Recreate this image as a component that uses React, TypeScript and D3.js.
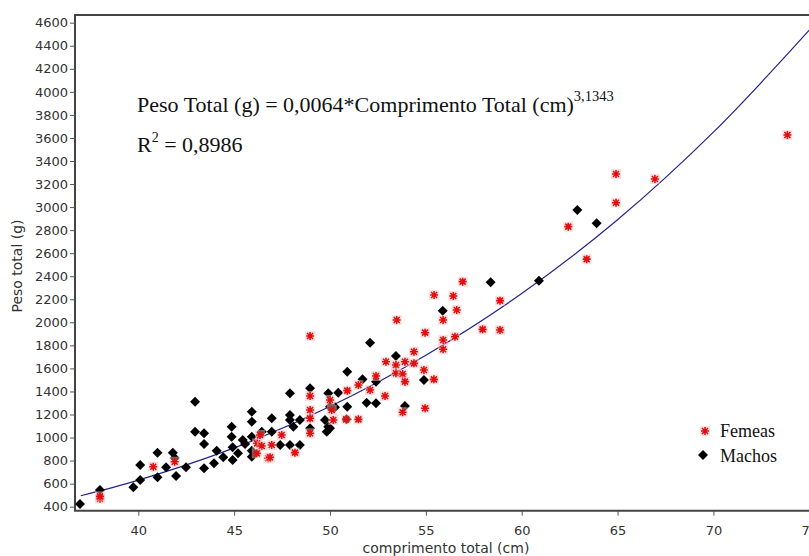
import { useRef, useEffect } from 'react';
import * as d3 from 'd3';

// comprimento total (cm) / peso total (g)
const machosCm = [36.96, 38.0, 39.74, 40.1, 40.1, 41.0, 41.0, 41.45, 41.8, 41.9, 41.97, 42.49, 42.96, 42.96, 43.43, 43.43, 43.43, 43.95, 44.09, 44.43, 44.87, 44.87, 44.92, 44.92, 45.2, 45.45, 45.57, 45.92, 45.92, 45.92, 45.92, 45.92, 46.44, 46.96, 46.96, 47.4, 47.91, 47.91, 47.91, 48.09, 48.43, 47.91, 48.43, 48.96, 48.96, 49.91, 50.43, 50.0, 50.26, 50.9, 50.9, 50.87, 49.74, 49.91, 49.83, 50.0, 51.7, 52.09, 51.91, 52.4, 52.4, 53.44, 53.91, 54.9, 55.88, 58.38, 60.9, 62.9, 63.91];
const machosG = [423, 545, 568, 632, 762, 655, 869, 742, 869, 822, 666, 742, 1311, 1051, 1037, 944, 733, 777, 886, 829, 1094, 1007, 915, 805, 863, 979, 944, 1224, 1138, 1007, 886, 834, 1051, 1167, 1051, 935, 1384, 1196, 1152, 1094, 1152, 935, 935, 1427, 1080, 1384, 1389, 1268, 1263, 1572, 1268, 1158, 1152, 1094, 1051, 1080, 1507, 1823, 1302, 1297, 1485, 1708, 1274, 1500, 2101, 2347, 2361, 2975, 2859];

const femeasCm = [38.0, 38.0, 40.78, 41.9, 46.2, 46.44, 46.78, 46.96, 46.35, 46.18, 46.87, 47.48, 48.17, 48.96, 48.96, 48.96, 48.96, 48.96, 50.0, 50.09, 50.17, 50.9, 50.84, 51.48, 51.48, 52.09, 52.4, 52.87, 52.92, 53.44, 53.44, 53.79, 53.91, 53.91, 54.38, 54.38, 54.9, 55.42, 54.96, 53.79, 54.96, 53.48, 55.9, 55.9, 55.9, 56.52, 57.96, 58.87, 58.87, 56.92, 55.43, 56.43, 56.61, 62.43, 64.92, 64.92, 63.39, 66.95, 73.86];
const femeasG = [470, 490, 747, 790, 950, 927, 820, 935, 1022, 863, 829, 1022, 869, 1881, 1361, 1239, 1167, 1037, 1326, 1239, 1152, 1407, 1158, 1158, 1456, 1413, 1534, 1361, 1658, 1630, 1558, 1552, 1485, 1658, 1745, 1644, 1586, 1505, 1910, 1220, 1254, 2020, 2020, 1847, 1766, 1875, 1939, 1933, 2188, 2353, 2237, 2228, 2107, 2830, 3038, 3287, 2548, 3244, 3626];

// regression curve
const curveCm = [37, 40, 45, 50, 55, 60, 65, 70, 75];
const curveG = [495, 630, 910, 1270, 1715, 2250, 2890, 3650, 4535];

const xTicks = [40, 45, 50, 55, 60, 65, 70, 75];
const yTicks = d3.range(400, 4601, 200);

const sans = 'DejaVu Sans, Verdana, sans-serif';
const serif = 'Liberation Serif, Times New Roman, serif';

function App() {
    const ref = useRef(null);

    useEffect(() => {
        const svg = d3.select(ref.current);
        svg.selectAll('*').remove();

        const left = 75, top = 15, bottom = 510.7;
        const x = d3.scaleLinear().domain([40, 75]).range([138.3, 138.3 + 35 * 19.17]);
        const y = d3.scaleLinear().domain([400, 4600]).range([506.7, 22.7]);

        svg.append('defs').append('clipPath').attr('id', 'plot')
            .append('rect').attr('x', left).attr('y', top).attr('width', 800).attr('height', bottom - top);

        // frame
        svg.append('path')
            .attr('d', `M830,${top}H${left}V${bottom}H830`)
            .attr('fill', 'none').attr('stroke', '#444').attr('stroke-width', 2);

        const yAxis = svg.append('g')
            .attr('transform', `translate(${left},0)`)
            .call(d3.axisLeft(y).tickValues(yTicks).tickSize(5).tickPadding(2).tickFormat(d3.format('d')));
        yAxis.select('.domain').remove();
        yAxis.selectAll('line').attr('stroke', '#555');
        yAxis.selectAll('text').attr('font-family', sans).attr('font-size', 13).attr('fill', '#333');

        const xAxis = svg.append('g')
            .attr('transform', `translate(0,${bottom})`)
            .call(d3.axisBottom(x).tickValues(xTicks).tickSize(5).tickPadding(10));
        xAxis.select('.domain').remove();
        xAxis.selectAll('line').attr('stroke', '#555');
        xAxis.selectAll('text').attr('font-family', sans).attr('font-size', 13).attr('fill', '#333');

        svg.append('text')
            .attr('transform', 'translate(22,266) rotate(-90)')
            .attr('text-anchor', 'middle')
            .attr('font-family', sans).attr('font-size', 14).attr('fill', '#333')
            .text('Peso total (g)');

        svg.append('text')
            .attr('x', 446).attr('y', 553)
            .attr('text-anchor', 'middle')
            .attr('font-family', sans).attr('font-size', 14).attr('fill', '#333')
            .text('comprimento total (cm)');

        const plot = svg.append('g').attr('clip-path', 'url(#plot)');

        const line = d3.line().x(d => x(d[0])).y(d => y(d[1])).curve(d3.curveCatmullRom);
        plot.append('path')
            .datum(curveCm.map((c, i) => [c, curveG[i]]))
            .attr('d', line)
            .attr('fill', 'none').attr('stroke', '#23238f').attr('stroke-width', 1.2);

        const star = 'M-4,0H4M0,-4V4M-3,-3L3,3M-3,3L3,-3';
        const diamond = 'M0,-5L5,0L0,5L-5,0Z';

        plot.selectAll('.macho')
            .data(machosCm.map((c, i) => [c, machosG[i]]))
            .enter().append('path')
            .attr('class', 'macho')
            .attr('transform', d => `translate(${x(d[0])},${y(d[1])})`)
            .attr('d', diamond)
            .attr('fill', '#000');

        const fem = plot.selectAll('.femea')
            .data(femeasCm.map((c, i) => [c, femeasG[i]]))
            .enter().append('g')
            .attr('class', 'femea')
            .attr('transform', d => `translate(${x(d[0])},${y(d[1])})`);
        fem.append('rect').attr('x', -5).attr('y', -5).attr('width', 10).attr('height', 10)
            .attr('fill', '#f7c6c6').attr('opacity', 0.5);
        fem.append('path').attr('d', star).attr('stroke', '#e01010').attr('stroke-width', 1.6);

        // equation
        const eq = svg.append('text')
            .attr('x', 137).attr('y', 112)
            .attr('font-family', serif).attr('font-size', 22).attr('fill', '#111');
        eq.append('tspan').text('Peso Total (g) = 0,0064*Comprimento Total (cm)');
        eq.append('tspan').attr('dy', -11).attr('font-size', 14.5).text('3,1343');

        const r2 = svg.append('text')
            .attr('x', 137).attr('y', 152)
            .attr('font-family', serif).attr('font-size', 22).attr('fill', '#111');
        r2.append('tspan').text('R');
        r2.append('tspan').attr('dy', -10).attr('font-size', 14).text('2');
        r2.append('tspan').attr('dy', 10).text(' = 0,8986');

        // legend
        const lg = svg.append('g');
        lg.append('rect').attr('x', 700).attr('y', 426).attr('width', 10).attr('height', 10)
            .attr('fill', '#f7c6c6').attr('opacity', 0.5);
        lg.append('path').attr('transform', 'translate(705,431)').attr('d', star)
            .attr('stroke', '#e01010').attr('stroke-width', 1.6);
        lg.append('path').attr('transform', 'translate(703,455)').attr('d', diamond).attr('fill', '#000');
        lg.append('text').attr('x', 720).attr('y', 437)
            .attr('font-family', serif).attr('font-size', 18).attr('fill', '#111').text('Femeas');
        lg.append('text').attr('x', 720).attr('y', 462)
            .attr('font-family', serif).attr('font-size', 18).attr('fill', '#111').text('Machos');
    }, []);

    return <svg ref={ref} width={809} height={556}
        style={{ position: 'absolute', left: 0, top: 0, background: '#fff' }} />;
}

export default App;
